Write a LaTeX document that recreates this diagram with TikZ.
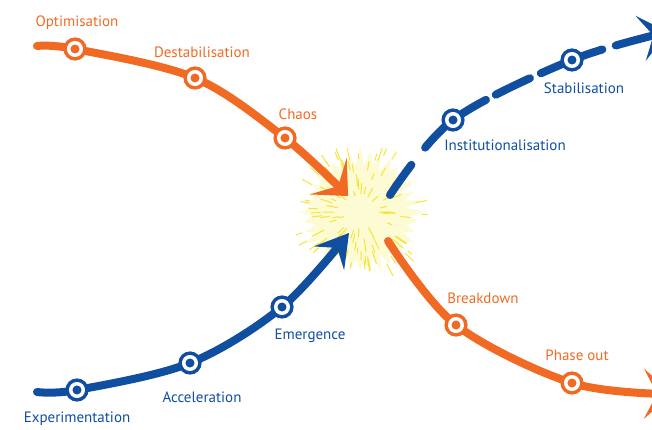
\documentclass[tikz,border=0pt]{standalone}
\usepackage{fontspec}
\setmainfont{PT Sans}
\usetikzlibrary{arrows.meta,backgrounds}

\definecolor{orng}{RGB}{241,106,36}
\definecolor{blu}{RGB}{16,78,160}
\definecolor{glow}{RGB}{253,251,212}
\definecolor{spark}{RGB}{246,228,58}

\begin{document}
\begin{tikzpicture}
  [x=1pt,y=-1pt,
   stop/.style={circle,inner sep=0pt,minimum size=12.5pt,line width=3.5pt,
     draw=#1,double=white,double distance=3.5pt,fill=#1},
   lbl/.style={text=#1,inner sep=1pt,font=\fontsize{15}{15}\selectfont},
   track/.style={draw=#1,line width=8pt,line cap=round}]
  \useasboundingbox (0,0) rectangle (652,430);
  \clip (0,0) rectangle (652,430);

  % stops
  \node[stop=orng] (opt)    at (75,49)  {};
  \node[stop=orng] (destab) at (195,78) {};
  \node[stop=orng] (chaos)  at (285,138) {};
  \node[stop=blu]  (exper)  at (77,390) {};
  \node[stop=blu]  (accel)  at (190,363) {};
  \node[stop=blu]  (emerg)  at (282,307) {};
  \node[stop=blu]  (inst)   at (453,120) {};
  \node[stop=blu]  (stab)   at (572,60)  {};
  \node[stop=orng] (brk)    at (456,325) {};
  \node[stop=orng] (phase)  at (572,383) {};

  % labels
  \node[lbl=orng] (optlbl)    at (77,23)   {Optimisation};
  \node[lbl=orng] (destablbl) at (202,52)  {Destabilisation};
  \node[lbl=orng] (chaoslbl)  at (298,114) {Chaos};
  \node[lbl=blu]  (experlbl)  at (77,419)  {Experimentation};
  \node[lbl=blu]  (accellbl)  at (202,397) {Acceleration};
  \node[lbl=blu]  (emerglbl)  at (310,336) {Emergence};
  \node[lbl=blu]  (instlbl)   at (505,145) {Institutionalisation};
  \node[lbl=blu]  (stablbl)   at (584,88)  {Stabilisation};
  \node[lbl=orng] (brklbl)    at (483,298) {Breakdown};
  \node[lbl=orng] (phaselbl)  at (577,355) {Phase out};

  % free ends
  \coordinate (o0) at (37,46);
  \coordinate (o9) at (348,196);
  \coordinate (b0) at (37,392);
  \coordinate (b9) at (349,233);
  \coordinate (d0) at (390,195);
  \coordinate (d9) at (668,32);
  \coordinate (r0) at (388,241);
  \coordinate (r9) at (672,394);
  \coordinate (bang) at (360,212);

  \begin{scope}[on background layer]
    \pgfmathsetseed{11}
    \fill[glow] ([shift={(bang)}]0:66)
      \foreach \a [evaluate=\a as \r using {mod(\a,10)==0 ? 56+10*rnd : 44+6*rnd}]
        in {5,10,...,355} { -- ([shift={(bang)}]\a:\r) } -- cycle;
    \foreach \i in {1,...,95} {
      \pgfmathsetmacro\a{360*rnd}
      \pgfmathsetmacro\r{16+46*rnd}
      \pgfmathsetmacro\l{5+9*rnd}
      \draw[spark,line width=1pt] ([shift={(bang)}]\a:\r) -- ([shift={(bang)}]\a:\r+\l);
    }

    \draw[track=orng,-{Stealth[length=28pt,width=52pt,inset=14pt]}]
      plot[smooth,tension=.55] coordinates {(o0) (opt.center) (destab.center) (chaos.center) (o9)};
    \draw[track=blu,-{Stealth[length=32pt,width=38pt,inset=13pt]}]
      plot[smooth,tension=.55] coordinates {(b0) (exper.center) (accel.center) (emerg.center) (b9)};
    \draw[track=blu,dash pattern=on 37pt off 22pt on 78pt off 11pt on 38pt off 12pt on 66pt off 14pt on 200pt,
      -{Stealth[length=28pt,width=46pt,inset=13pt]}]
      plot[smooth,tension=.55] coordinates {(d0) (inst.center) (stab.center) (d9)};
    \draw[track=orng,-{Stealth[length=28pt,width=50pt,inset=13pt]}]
      plot[smooth,tension=.55] coordinates {(r0) (brk.center) (phase.center) (r9)};
  \end{scope}

\end{tikzpicture}
\end{document}
